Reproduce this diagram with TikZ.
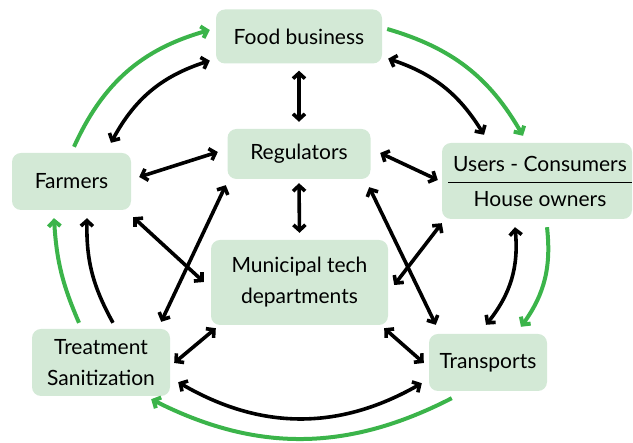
\documentclass[tikz,border=0pt]{standalone}
\usepackage{fontspec}
\setmainfont{Lato}
\usetikzlibrary{arrows.meta}
\definecolor{boxfill}{HTML}{D3E9D6}
\definecolor{cycgreen}{HTML}{3BB44A}
\tikzset{
  box/.style={fill=boxfill, rounded corners=9pt, inner sep=0pt, align=center,
    font=\fontsize{21}{31}\selectfont},
  lbl/.style={inner sep=0pt, align=center, font=\fontsize{21}{31}\selectfont},
  tip/.tip={Straight Barb[length=5.5pt,width=12pt]},
  dbl/.style={line width=3.6pt, black, {tip}-{tip}},
  one/.style={line width=3.6pt, black, -{tip}},
  cyc/.style={line width=4pt, cycgreen, -{tip}}
}
\begin{document}
\begin{tikzpicture}[x=1pt,y=1pt]
\useasboundingbox (0,0) rectangle (633,443);
% boxes
\node[box, minimum width=166pt, minimum height=54pt] (food) at (299,406.5) {Food business};
\node[box, minimum width=143pt, minimum height=50pt] (reg) at (299,289) {Regulators};
\node[box, minimum width=119pt, minimum height=57pt] (farm) at (71.5,261.5) {Farmers};
\node[box, minimum width=190pt, minimum height=76pt] (users) at (537,262) {};
\node[lbl] (users1) at (540,279) {Users - Consumers};
\node[lbl] (users2) at (540,244) {House owners};
\coordinate (ulineA) at (448,260);
\coordinate (ulineB) at (632,260);
\draw[line width=1pt] (ulineA) -- (ulineB);
\node[box, minimum width=177pt, minimum height=85pt] (muni) at (299.5,160.5) {Municipal tech\\departments};
\node[box, minimum width=138pt, minimum height=67pt] (treat) at (101,80.5) {Treatment\\Sanitization};
\node[box, minimum width=118pt, minimum height=57pt] (trans) at (488,80.5) {Transports};
% black two-way connectors
\draw[dbl] ([yshift=-7pt]food.south) -- ([yshift=7pt]reg.north);
\draw[dbl] ([yshift=-4pt]reg.south) -- ([yshift=7pt]muni.north);
\draw[dbl] ([shift={(8pt,4.5pt)}]farm.east) -- ([shift={(-9.5pt,2pt)}]reg.west);
\draw[dbl] ([shift={(9.5pt,1pt)}]reg.east) -- ([shift={(-4pt,1pt)}]users.west);
\draw[dbl] ([shift={(-6pt,3pt)}]food.south west) to[bend right=22] ([shift={(39.5pt,10pt)}]farm.north);
\draw[dbl] ([shift={(6pt,5pt)}]food.south east) to[bend left=20] ([shift={(-53pt,8pt)}]users.north);
\draw[dbl] ([shift={(2pt,-7pt)}]farm.south east) -- ([shift={(-7pt,0.5pt)}]muni.west);
\draw[dbl] ([shift={(-9pt,7pt)}]treat.north east) -- ([shift={(-1.5pt,-6pt)}]reg.south west);
\draw[dbl] ([shift={(0pt,-4pt)}]users.south west) -- ([shift={(6pt,-2.5pt)}]muni.east);
\draw[dbl] ([shift={(-1.5pt,-8pt)}]reg.south east) -- ([shift={(7pt,9pt)}]trans.north west);
\draw[dbl] ([shift={(4pt,-0.5pt)}]treat.east) -- ([shift={(5pt,-3pt)}]muni.south west);
\draw[dbl] ([shift={(-4pt,-3pt)}]muni.south east) -- ([shift={(-5pt,-0.5pt)}]trans.west);
\draw[dbl] ([shift={(8pt,14pt)}]treat.south east) to[bend right=30] ([shift={(-7pt,8pt)}]trans.south west);
\draw[dbl] ([shift={(-22pt,-8pt)}]users.south) to[bend left=22] ([shift={(-2pt,9pt)}]trans.north);
\draw[one] ([shift={(12pt,6pt)}]treat.north) to[bend left=15] ([shift={(15.5pt,-8pt)}]farm.south);
% green cycle
\draw[cyc] ([shift={(2.5pt,6pt)}]farm.north) to[bend left=25] ([shift={(-6pt,6.5pt)}]food.west);
\draw[cyc] ([shift={(5pt,7.5pt)}]food.east) to[bend left=22] ([shift={(-14pt,7pt)}]users.north);
\draw[cyc] ([shift={(10pt,-8pt)}]users.south) to[bend left=21] ([shift={(33pt,7pt)}]trans.north);
\draw[cyc] ([shift={(23pt,-7pt)}]trans.south west) to[bend left=27] ([shift={(-19pt,-3pt)}]treat.south east);
\draw[cyc] ([shift={(-22pt,6pt)}]treat.north) to[bend left=10] ([shift={(-17.5pt,-8pt)}]farm.south);
\end{tikzpicture}
\end{document}
